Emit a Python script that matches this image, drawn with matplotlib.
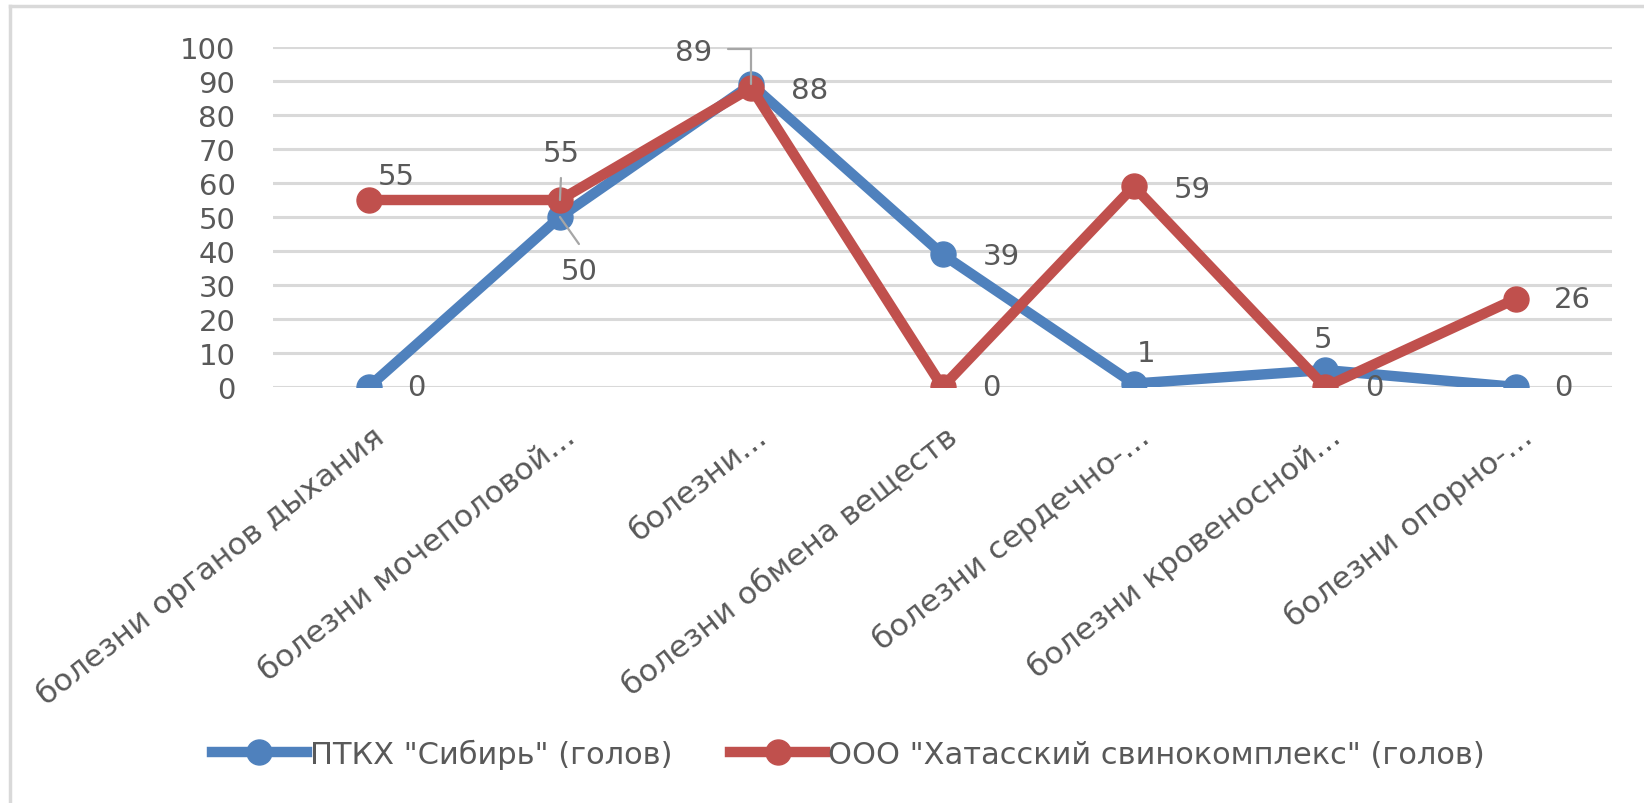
import matplotlib
matplotlib.use("Agg")
import matplotlib.pyplot as plt
import matplotlib.transforms as mtransforms
from matplotlib.lines import Line2D

categories = ["болезни органов дыхания", "болезни мочеполовой...", "болезни...",
              "болезни обмена веществ", "болезни сердечно-...", "болезни кровеносной...",
              "болезни опорно-..."]
sibir = [0, 50, 89, 39, 1, 5, 0]
khatassky = [55, 55, 88, 0, 59, 0, 26]
series_names = ['ПТКХ "Сибирь" (голов)', 'ООО "Хатасский свинокомплекс" (голов)']
y_ticks = [0, 10, 20, 30, 40, 50, 60, 70, 80, 90, 100]

BLUE = "#4F81BD"
RED = "#C0504D"
GRID = "#D9D9D9"
TEXT = "#595959"
LEADER = "#A6A6A6"
FS = 21

plt.rcParams["font.family"] = ["DejaVu Sans"]

fig = plt.figure(figsize=(16.44, 8.04), dpi=100)
ax = fig.add_axes([273 / 1644, 1 - 388 / 804, (1612 - 273) / 1644, (388 - 48) / 804])

x = list(range(len(categories)))
ax.plot(x, sibir, color=BLUE, lw=7.5, marker="o", ms=18, solid_joinstyle="round", zorder=3)
ax.plot(x, khatassky, color=RED, lw=7.5, marker="o", ms=18, solid_joinstyle="round", zorder=4)

ax.set_xlim(-0.5, len(categories) - 0.5)
ax.set_ylim(0, 100)
ax.set_yticks(y_ticks)
ax.grid(axis="y", color=GRID, lw=2.2, zorder=0)
ax.set_axisbelow(True)
for s in ax.spines.values():
    s.set_visible(False)
ax.tick_params(axis="y", length=0, pad=27, labelsize=FS, labelcolor=TEXT)
ax.tick_params(axis="x", length=0, pad=33, labelsize=22.5, labelcolor=TEXT)
ax.set_xticks(x)
ax.set_xticklabels(categories, rotation=38, ha="right", va="center", rotation_mode="anchor")
shift = mtransforms.ScaledTranslation(12 / 100, 0, fig.dpi_scale_trans)
for lbl in ax.get_xticklabels():
    lbl.set_transform(lbl.get_transform() + shift)


# data labels, offsets in pixels from the point
def label(i, vals, dx, dy, ha="left", va="center"):
    ax.annotate(str(vals[i]), (i, vals[i]), xytext=(dx, dy), textcoords="offset pixels",
                ha=ha, va=va, fontsize=FS, color=TEXT, zorder=6)


# blue
label(0, sibir, 38, 0)
label(1, sibir, 19, -54, ha="center")
label(2, sibir, -58, 32, ha="center")
label(3, sibir, 40, -2)
label(4, sibir, 12, 31, ha="center")
label(5, sibir, -2, 31, ha="center")
label(6, sibir, 38, 0)
# red
label(0, khatassky, 28, 24, ha="center")
label(1, khatassky, 1, 47, ha="center")
label(2, khatassky, 40, -2)
label(3, khatassky, 40, 0)
label(4, khatassky, 40, -3)
label(5, khatassky, 40, 0)
label(6, khatassky, 38, 0)

# leader lines
lead = dict(arrowstyle="-", color=LEADER, lw=1.6, shrinkA=0, shrinkB=0)
ax.annotate("", xy=(1, khatassky[1]), xytext=(1, 22), textcoords="offset pixels",
            arrowprops=lead, zorder=5)
ax.annotate("", xy=(1, sibir[1]), xytext=(19, -27), textcoords="offset pixels",
            arrowprops=lead, zorder=5)
ax.annotate("", xy=(2, sibir[2]), xytext=(-23, 35), textcoords="offset pixels",
            arrowprops=dict(lead, connectionstyle="angle,angleA=0,angleB=90,rad=0"), zorder=5)

handles = [Line2D([], [], color=BLUE, lw=7.5, marker="o", ms=18),
           Line2D([], [], color=RED, lw=7.5, marker="o", ms=18)]
leg = fig.legend(handles, series_names, loc="center", bbox_to_anchor=(0.516, 0.061),
                 ncol=2, frameon=False, fontsize=22, handlelength=3.1, handletextpad=0.1,
                 columnspacing=1.9)
for t in leg.get_texts():
    t.set_color(TEXT)

# outer chart border (top and left visible)
fig.add_artist(Line2D([10 / 1644, 1], [1 - 7 / 804, 1 - 7 / 804], color=GRID, lw=2.5,
                      transform=fig.transFigure))
fig.add_artist(Line2D([10 / 1644, 10 / 1644], [0, 1 - 7 / 804], color=GRID, lw=2.5,
                      transform=fig.transFigure))

fig.savefig("out.png", dpi=100)
